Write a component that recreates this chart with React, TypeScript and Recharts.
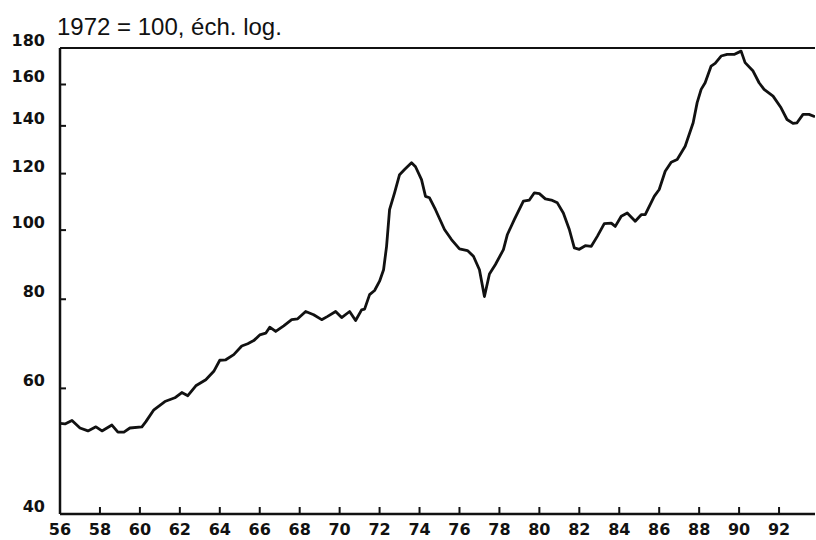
import React from 'react';
import { LineChart, Line, XAxis, YAxis, ReferenceLine } from 'recharts';

// year (decimal) and index value, 1972 = 100, log scale
const years = [
  56.0, 56.25, 56.6, 57.0, 57.4, 57.8, 58.1, 58.6, 58.9, 59.2, 59.5, 60.1, 60.3, 60.7,
  61.25, 61.75, 62.1, 62.4, 62.8, 63.3, 63.7, 64.0, 64.3, 64.7, 65.1, 65.4, 65.7, 66.0,
  66.3, 66.5, 66.8, 67.2, 67.6, 67.9, 68.3, 68.7, 69.1, 69.4, 69.8, 70.1, 70.5, 70.8,
  71.1, 71.25, 71.5, 71.75, 72.0, 72.2, 72.35, 72.5, 72.75, 73.0, 73.25, 73.6, 73.8,
  74.1, 74.3, 74.5, 74.8, 75.25, 75.6, 76.0, 76.4, 76.7, 77.0, 77.25, 77.5, 77.8, 78.2,
  78.4, 78.75, 79.2, 79.5, 79.75, 80.0, 80.3, 80.6, 80.9, 81.2, 81.5, 81.75, 82.0, 82.3,
  82.6, 82.9, 83.25, 83.6, 83.8, 84.1, 84.4, 84.8, 85.1, 85.3, 85.75, 86.0, 86.3, 86.6,
  86.9, 87.3, 87.7, 87.9, 88.1, 88.3, 88.6, 88.8, 89.1, 89.4, 89.75, 90.1, 90.3, 90.7,
  91.0, 91.25, 91.7, 92.1, 92.4, 92.7, 92.9, 93.2, 93.5, 93.8,
];

const index = [
  53.6, 53.5, 54.1, 52.8, 52.3, 53.0, 52.3, 53.3, 52.1, 52.1, 52.8, 53.0, 53.9, 56.0,
  57.5, 58.2, 59.2, 58.6, 60.5, 61.7, 63.4, 65.7, 65.8, 66.9, 68.8, 69.3, 70.0, 71.3,
  71.7, 73.1, 72.1, 73.4, 74.9, 75.1, 76.9, 76.1, 74.9, 75.7, 76.9, 75.4, 76.9, 74.7,
  77.3, 77.5, 81.2, 82.3, 84.8, 88.0, 94.9, 106.8, 112.8, 119.6, 121.6, 124.3, 122.7,
  117.7, 111.5, 111.0, 106.8, 100.2, 97.0, 94.1, 93.6, 91.9, 88.0, 80.7, 86.8, 89.5, 93.9,
  98.6, 103.5, 109.8, 110.2, 112.8, 112.5, 110.6, 110.2, 109.2, 105.7, 100.2, 94.4, 94.0, 95.1,
  94.9, 98.0, 102.1, 102.3, 101.2, 104.6, 105.7, 102.9, 105.1, 105.1, 111.5, 114.0, 120.9, 124.5,
  125.6, 131.1, 141.4, 150.9, 157.5, 160.9, 169.8, 171.3, 175.4, 176.3, 176.3, 178.2, 171.7, 167.1,
  160.9, 157.5, 154.1, 148.4, 142.9, 141.1, 141.4, 145.3, 145.3, 144.2,
];

const xTicks = [56, 58, 60, 62, 64, 66, 68, 70, 72, 74, 76, 78, 80, 82, 84, 86, 88, 90, 92];
const yTicks = [40, 60, 80, 100, 120, 140, 160, 180];

const data = years.map((year, i) => ({ year, value: index[i] }));

const tickFont = {
  fontFamily: '"DejaVu Sans", sans-serif',
  fontWeight: 'bold' as const,
  fontSize: 16,
  fill: '#111',
};

function YTick({ x, y, payload }: any) {
  return (
    <g>
      <line x1={x} x2={x + 6} y1={y} y2={y} stroke="#111" strokeWidth={2} />
      <text x={x - 15} y={y - 2} textAnchor="end" {...tickFont}>
        {payload.value}
      </text>
    </g>
  );
}

function XTick({ x, y, payload }: any) {
  return (
    <g>
      <line x1={x} x2={x} y1={y} y2={y - 7} stroke="#111" strokeWidth={2} />
      <text x={x} y={y + 21} textAnchor="middle" {...tickFont}>
        {payload.value}
      </text>
    </g>
  );
}

export default function App() {
  return (
    <div style={{ position: 'absolute', left: 0, top: 0, width: 816, height: 540, background: '#fff' }}>
      <LineChart
        width={816}
        height={540}
        data={data}
        margin={{ top: 48, right: 1, bottom: 0, left: 0 }}
      >
        <XAxis
          dataKey="year"
          type="number"
          domain={[56, 93.8]}
          ticks={xTicks}
          tick={<XTick />}
          tickLine={false}
          tickSize={0}
          tickMargin={0}
          height={26}
          axisLine={{ stroke: '#111', strokeWidth: 2.5 }}
          allowDataOverflow
          interval={0}
        />
        <YAxis
          scale="log"
          domain={[40, 180]}
          ticks={yTicks}
          tick={<YTick />}
          tickLine={false}
          tickSize={0}
          tickMargin={0}
          width={60}
          axisLine={{ stroke: '#111', strokeWidth: 2.5 }}
          allowDataOverflow
          interval={0}
        />
        <ReferenceLine y={180} stroke="#111" strokeWidth={2} />
        <Line
          type="linear"
          dataKey="value"
          stroke="#111"
          strokeWidth={2.8}
          dot={false}
          strokeLinejoin="round"
          isAnimationActive={false}
        />
      </LineChart>
      <svg
        width={816}
        height={46}
        style={{ position: 'absolute', left: 0, top: 0, pointerEvents: 'none' }}
      >
        <text
          x={57}
          y={35}
          fontFamily='"Liberation Sans", Arial, sans-serif'
          fontSize={24}
          fill="#111"
        >
          1972 = 100, éch. log.
        </text>
      </svg>
    </div>
  );
}
